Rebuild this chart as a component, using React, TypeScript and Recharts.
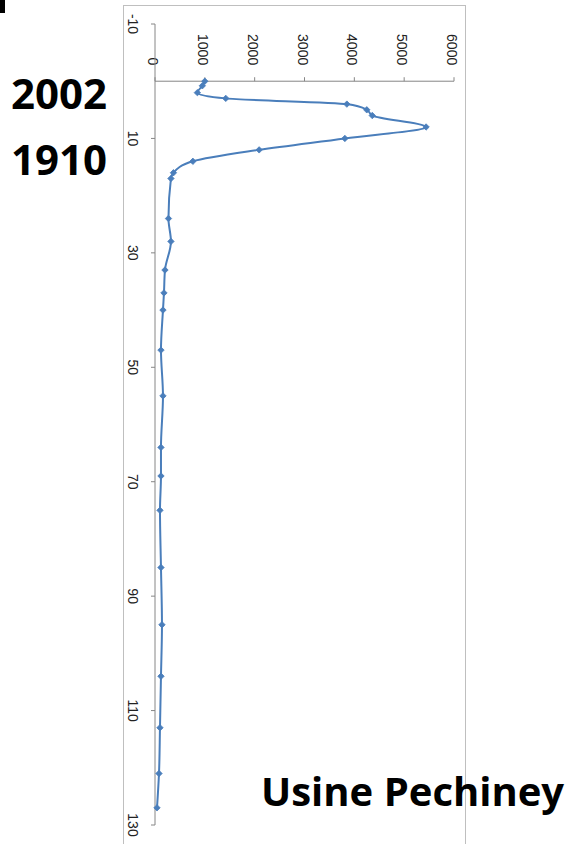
import { LineChart, Line, XAxis, YAxis, ReferenceLine } from "recharts"

// depth (m) vs value
const depths = [0, 0.8, 2, 3, 4, 5, 6, 8, 10, 12, 14, 16, 17, 24, 28, 33, 37, 40, 47, 55, 64, 69, 75, 85, 95, 104, 113, 121, 127]
const values = [1000, 950, 850, 1420, 3850, 4250, 4360, 5440, 3810, 2090, 760, 370, 320, 270, 320, 200, 180, 160, 120, 160, 120, 120, 100, 120, 140, 120, 100, 80, 40]

const valueTicks = [0, 1000, 2000, 3000, 4000, 5000, 6000]
const depthTicks = [-10, 10, 30, 50, 70, 90, 110, 130]

const data = depths.map((d, i) => ({ depth: d, value: values[i] }))

const AXIS = "#868686"
const BLUE = "#4A7EBB"
const LABEL_FONT = "'Liberation Sans', Arial, sans-serif"

const DepthTick = (props: any) => {
  const { x, y, payload } = props
  const cx = x - 16
  return (
    <text
      x={cx}
      y={y}
      dy="0.35em"
      textAnchor="middle"
      transform={`rotate(90 ${cx} ${y})`}
      fontSize={14}
      fontFamily={LABEL_FONT}
      fill="#222"
    >
      {payload.value}
    </text>
  )
}

const valueLabel = (v: number) => (props: any) => {
  const vb = props.viewBox || {}
  const x = vb.x
  const y = vb.y - 12
  return (
    <text
      x={x}
      y={y}
      dy="0.5em"
      textAnchor="end"
      transform={`rotate(90 ${x} ${y})`}
      fontSize={14}
      fontFamily={LABEL_FONT}
      fill="#222"
    >
      {v}
    </text>
  )
}

const Diamond = (props: any) => {
  const { cx, cy } = props
  if (cx == null || cy == null) return null
  const s = 3.2
  return <path d={`M${cx} ${cy - s}L${cx + s} ${cy}L${cx} ${cy + s}L${cx - s} ${cy}Z`} fill={BLUE} stroke={BLUE} strokeWidth={0.8} />
}

export default function App() {
  return (
    <div style={{ position: "absolute", left: 0, top: 0, width: 567, height: 844, background: "#fff", overflow: "hidden" }}>
      <svg width={567} height={844} style={{ position: "absolute", left: 0, top: 0 }}>
        <rect x={0} y={0} width={5} height={13} fill="#000" />
        <rect x={123.5} y={5.5} width={342} height={900} fill="none" stroke="#bfbfbf" />
        <g fontFamily="'Open Sans', sans-serif" fontWeight="bold" fill="#000">
          <text x={11} y={109} fontSize={42}>2002</text>
          <text x={11} y={175} fontSize={42}>1910</text>
          <text x={261} y={806} fontSize={40}>Usine Pechiney</text>
        </g>
      </svg>
      <div style={{ position: "absolute", left: 0, top: 0 }}>
        <LineChart width={567} height={844} layout="vertical" data={data} margin={{ top: 24, right: 113, bottom: 19, left: 125 }}>
          <XAxis type="number" dataKey="value" domain={[0, 6000]} hide />
          <YAxis
            type="number"
            dataKey="depth"
            domain={[-10, 130]}
            ticks={depthTicks}
            interval={0}
            width={30}
            tickSize={4}
            axisLine={{ stroke: AXIS }}
            tickLine={{ stroke: AXIS }}
            tick={<DepthTick />}
          />
          <ReferenceLine y={0} stroke={AXIS} />
          {valueTicks.map((v) => (
            <ReferenceLine
              key={v}
              segment={[{ x: v, y: 0 }, { x: v, y: -0.7 }]}
              stroke={AXIS}
              label={valueLabel(v)}
            />
          ))}
          <Line
            type="monotone"
            dataKey="value"
            stroke={BLUE}
            strokeWidth={2}
            dot={<Diamond />}
            isAnimationActive={false}
          />
        </LineChart>
      </div>
    </div>
  )
}
